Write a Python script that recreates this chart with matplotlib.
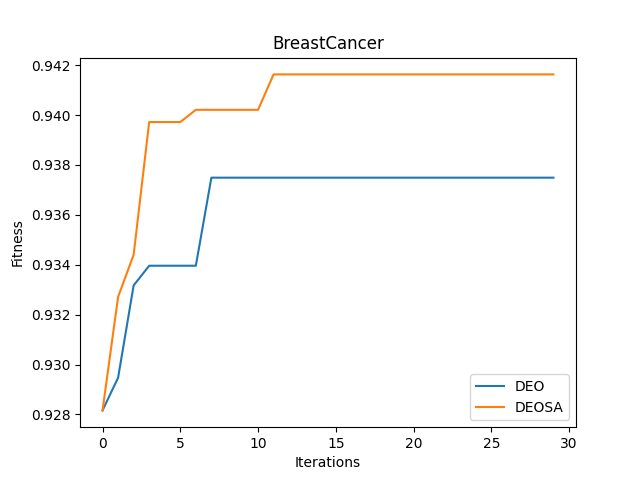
import matplotlib
matplotlib.use("Agg")
import matplotlib.pyplot as plt
import numpy as np

iterations = np.arange(30)
deo = [0.92816, 0.92947, 0.93317, 0.93396, 0.93396, 0.93396, 0.93396] + [0.93749] * 23
deosa = [0.92816, 0.93271, 0.93440, 0.93972, 0.93972, 0.93972, 0.94021, 0.94021,
         0.94021, 0.94021, 0.94021] + [0.94163] * 19

fig, ax = plt.subplots(figsize=(6.4, 4.8), dpi=100)
ax.plot(iterations, deo, label="DEO")
ax.plot(iterations, deosa, label="DEOSA")
ax.set_title("BreastCancer")
ax.set_xlabel("Iterations")
ax.set_ylabel("Fitness")
ax.legend(loc="lower right")
fig.savefig("out.png")
